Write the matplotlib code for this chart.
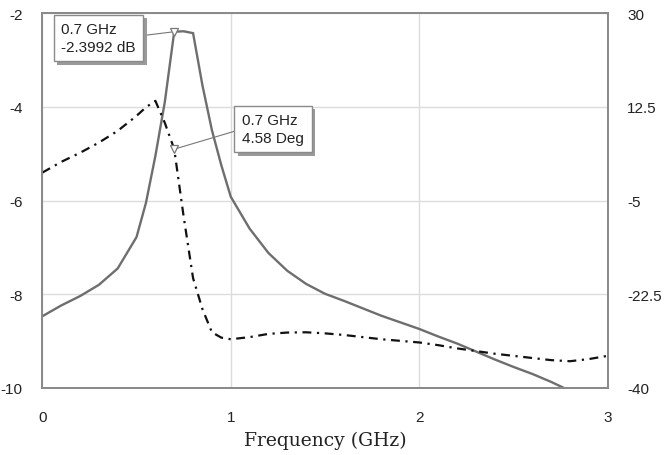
import matplotlib
matplotlib.use("Agg")
import matplotlib.pyplot as plt
import matplotlib.patheffects as pe

plt.rcParams["axes.unicode_minus"] = False

# frequency points (GHz) and traces
freq = [0.0, 0.1, 0.2, 0.3, 0.4, 0.5, 0.55, 0.6, 0.65, 0.7, 0.75, 0.8, 0.85,
        0.9, 0.95, 1.0, 1.1, 1.2, 1.3, 1.4, 1.5, 1.6, 1.7, 1.8, 1.9, 2.0,
        2.1, 2.2, 2.3, 2.4, 2.5, 2.6, 2.7, 2.8, 2.9, 3.0]
mag_db = [-8.47, -8.24, -8.04, -7.8, -7.45, -6.78, -6.05, -5.05, -3.9, -2.3992,
          -2.39, -2.43, -3.55, -4.5, -5.25, -5.92, -6.6, -7.12, -7.5, -7.78,
          -7.99, -8.14, -8.3, -8.46, -8.6, -8.74, -8.9, -9.05, -9.22, -9.39,
          -9.55, -9.7, -9.87, -10.06, -10.25, -10.45]
phase_deg = [0.2, 2.2, 3.9, 5.8, 8.0, 10.8, 12.4, 13.6, 9.5, 4.58,
             -8.0, -19.5, -25.3, -29.6, -30.6, -30.9, -30.5, -29.9, -29.65, -29.6,
             -29.8, -30.1, -30.5, -30.9, -31.2, -31.5, -32.0, -32.6, -33.1, -33.6,
             -34.0, -34.4, -34.8, -35.0, -34.6, -34.0]

left_ticks = [-10, -8, -6, -4, -2]
right_ticks = [-40, -22.5, -5, 12.5, 30]
x_ticks = [0, 1, 2, 3]

marker_f = 0.7
marker_db = -2.3992
marker_deg = 4.58

tick_font = "Liberation Sans"
frame_col = "#8a8a8a"
grid_col = "#dcdcdc"
fs = 11

fig = plt.figure(figsize=(6.64, 4.56), dpi=100)
ax = fig.add_axes([42.3 / 664, 1 - 389 / 456, (607.7 - 42.3) / 664, (389 - 14) / 456])
ax2 = ax.twinx()

ax.plot(freq, mag_db, color="#6e6e6e", lw=1.7, solid_joinstyle="miter")
ln, = ax2.plot(freq, phase_deg, color="#111111", lw=1.6)
ln.set_dashes((4, 2.5, 1, 2.5))

ax.plot([marker_f], [marker_db], marker="v", ms=6, mfc="white", mec="#777777", mew=0.9)
ax2.plot([marker_f], [marker_deg], marker="v", ms=6, mfc="white", mec="#777777", mew=0.9)

ax.set_xlim(0, 3)
ax.set_ylim(-10, -2)
ax2.set_ylim(-40, 30)
ax.set_xticks(x_ticks)
ax.set_yticks(left_ticks)
ax2.set_yticks(right_ticks)
ax2.set_yticklabels(["%g" % t for t in right_ticks])
ax.grid(True, color=grid_col, lw=1.0)
ax.set_axisbelow(True)

for a in (ax, ax2):
    for s in a.spines.values():
        s.set_color(frame_col)
        s.set_linewidth(1.3)
    a.tick_params(length=0, labelsize=fs, labelcolor="#222222")
    for lab in a.get_xticklabels() + a.get_yticklabels():
        lab.set_fontfamily(tick_font)
ax.tick_params(axis="x", pad=16)
ax.tick_params(axis="y", pad=14)
ax2.tick_params(axis="y", pad=14)

ax.set_xlabel("Frequency (GHz)", fontfamily="DejaVu Serif", fontsize=13.5,
              color="#222222", labelpad=5)

box = dict(boxstyle="square,pad=0.5", fc="white", ec="#8a8a8a", lw=1.0)
a1 = ax.annotate("0.7 GHz\n-2.3992 dB", xy=(marker_f, marker_db),
                 xytext=(98.5, 456 - 39), textcoords="figure pixels",
                 ha="center", va="center", multialignment="left", linespacing=1.3,
                 fontsize=fs, fontfamily=tick_font, color="#222222", bbox=box,
                 arrowprops=dict(arrowstyle="-", color="#777777", lw=0.8,
                                 relpos=(1, 0.55), shrinkA=0, shrinkB=2))
a2 = ax2.annotate("0.7 GHz\n4.58 Deg", xy=(marker_f, marker_deg),
                  xytext=(273, 456 - 130), textcoords="figure pixels",
                  ha="center", va="center", multialignment="left", linespacing=1.3,
                  fontsize=fs, fontfamily=tick_font, color="#222222", bbox=box,
                  arrowprops=dict(arrowstyle="-", color="#777777", lw=0.8,
                                  relpos=(0, 0.5), shrinkA=0, shrinkB=2))
for a in (a1, a2):
    a.get_bbox_patch().set_path_effects([
        pe.withSimplePatchShadow(offset=(2.5, -2.5), shadow_rgbFace="#9a9a9a", alpha=1.0)])

fig.savefig("out.png", dpi=100)
